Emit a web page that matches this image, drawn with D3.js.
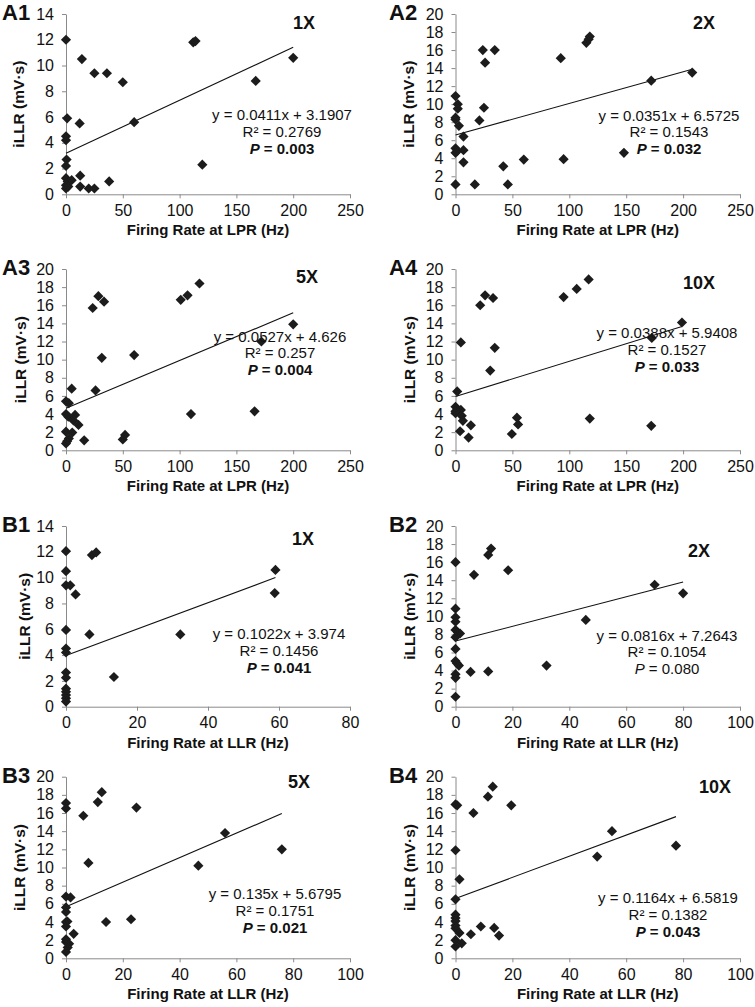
<!DOCTYPE html>
<html>
<head>
<meta charset="utf-8">
<script src="https://cdn.jsdelivr.net/npm/d3@7"></script>
<style>
  body { margin: 0; background: #fff; }
  svg { display: block; font-family: "Liberation Sans", Arial, sans-serif; }
</style>
</head>
<body>
<div id="fig"></div>
<script>
// panel names and labels
const panelIds = ["A1", "A2", "A3", "A4", "B1", "B2", "B3", "B4"];
const doseLabels = ["1X", "2X", "5X", "10X", "1X", "2X", "5X", "10X"];
const xTitles = ["Firing Rate at LPR (Hz)", "Firing Rate at LPR (Hz)", "Firing Rate at LPR (Hz)", "Firing Rate at LPR (Hz)",
  "Firing Rate at LLR (Hz)", "Firing Rate at LLR (Hz)", "Firing Rate at LLR (Hz)", "Firing Rate at LLR (Hz)"];
const yTitle = "iLLR (mV·s)";
const xMaxes = [250, 250, 250, 250, 80, 100, 100, 100];
const xSteps = [50, 50, 50, 50, 20, 20, 20, 20];
const yMaxes = [14, 20, 20, 20, 14, 20, 20, 20];

// firing rate (x) and iLLR (y)
const a1Rate = [0, 14, 25, 36, 50, 112, 114, 200, 167, 60, 12, 1, 0, 0, 0.5, 0, 120, 0, 1.5, 0, 0, 5, 12.5, 12.5, 20, 25, 38, 2];
const a1LLR = [12.0, 10.5, 9.4, 9.4, 8.7, 11.8, 11.9, 10.6, 8.8, 5.6, 5.5, 5.9, 4.5, 4.2, 2.7, 2.2, 2.3, 1.25, 1.0, 0.7, 0.45, 1.1, 1.45, 0.6, 0.45, 0.45, 1.0, 0.6];

const a2Rate = [24, 34.5, 26, 92.5, 115, 117, 118, 208, 172, 0, 2, 2, 25, 0, 0, 21, 3, 7, 0, 0, 1.5, 7, 7, 42, 60, 95, 148, 0, 17, 46];
const a2LLR = [16.0, 16.0, 14.6, 15.1, 16.8, 17.2, 17.5, 13.5, 12.6, 10.9, 10.0, 9.5, 9.6, 8.5, 8.3, 8.2, 7.6, 6.4, 5.1, 4.6, 4.8, 4.9, 3.55, 3.1, 3.85, 3.9, 4.6, 1.1, 1.1, 1.1];

const a3Rate = [23.5, 28.5, 33.5, 31.5, 60, 101, 107, 117.5, 172, 200, 26, 5, 110, 166, 50, 52, 16, 0, 2.5, 0, 2, 8, 6.5, 11, 0, 5.5, 2.5, 0, 1];
const a3LLR = [15.7, 17.0, 16.4, 10.2, 10.5, 16.6, 17.1, 18.4, 12.0, 13.9, 6.6, 6.8, 4.0, 4.3, 1.2, 1.7, 1.1, 5.4, 5.2, 4.0, 3.7, 3.9, 3.3, 2.8, 2.05, 1.95, 1.3, 0.75, 1.0];

const a4Rate = [4.7, 21.7, 26, 33, 30.5, 34.5, 95, 106.5, 117, 199, 172.5, 1.5, 0, 0, 2, 4.7, 5.5, 6.5, 4, 13.5, 11.5, 49.5, 54, 55, 118, 172, 0];
const a4LLR = [11.9, 16.0, 17.1, 16.8, 8.8, 11.3, 16.9, 17.8, 18.85, 14.1, 12.4, 6.5, 4.8, 4.1, 4.45, 4.45, 3.8, 3.25, 2.1, 2.75, 1.4, 1.8, 3.6, 2.85, 3.5, 2.7, 4.3];

const b1Rate = [0, 0, 0, 1.2, 2.7, 7.3, 8.5, 59, 58.8, 0, 6.6, 32.2, 0, 0, 0, 0, 13.5, 0, 0, 0, 0, 0];
const b1LLR = [12.05, 10.5, 9.4, 9.4, 8.7, 11.75, 11.95, 10.6, 8.8, 5.95, 5.6, 5.6, 4.5, 4.2, 2.65, 2.25, 2.3, 1.4, 1.15, 0.9, 0.65, 0.4];

const b2Rate = [0, 6.5, 11.5, 12.5, 18.5, 70, 80, 45.8, 32, 5.3, 11.5, 0, 0, 0, 0, 0.9, 1.6, 0, 0, 0, 0.5, 1.2, 0, 0, 0];
const b2LLR = [16.0, 14.6, 16.8, 17.5, 15.1, 13.5, 12.55, 9.6, 4.55, 3.85, 3.9, 10.85, 9.9, 9.4, 8.5, 8.2, 8.1, 7.7, 6.4, 5.05, 4.8, 4.55, 3.6, 3.2, 1.1];

const b3Rate = [0, 0, 6.1, 11.2, 12.6, 24.8, 7.9, 46.6, 56, 76, 0, 1.6, 14.1, 22.9, 0, 0, 0, 0.5, 0, 2.7, 0, 1.1, 0.6, 0, 0];
const b3LLR = [17.1, 16.5, 15.7, 17.2, 18.3, 16.6, 10.5, 10.2, 13.8, 12.0, 6.8, 6.7, 4.0, 4.3, 5.6, 5.1, 4.0, 4.05, 3.5, 2.7, 2.1, 1.6, 1.2, 1.8, 0.7];

const b4Rate = [0, 0.6, 6.3, 11.4, 13.1, 19.6, 0, 1.4, 0, 49.8, 55, 77.5, 0, 0, 0, 0, 0, 0, 0, 1.4, 2.2, 5.4, 8.9, 13.6, 15.3];
const b4LLR = [16.95, 16.85, 16.0, 17.8, 18.9, 16.85, 11.9, 8.7, 6.5, 11.2, 14.0, 12.4, 4.8, 4.45, 4.1, 3.6, 3.3, 2.0, 1.3, 2.8, 1.65, 2.65, 3.5, 3.35, 2.5];

const rateSeries = [a1Rate, a2Rate, a3Rate, a4Rate, b1Rate, b2Rate, b3Rate, b4Rate];
const llrSeries = [a1LLR, a2LLR, a3LLR, a4LLR, b1LLR, b2LLR, b3LLR, b4LLR];

// linear fits as printed on the figure
const slopes = [0.0411, 0.0351, 0.0527, 0.0388, 0.1022, 0.0816, 0.135, 0.1164];
const intercepts = [3.1907, 6.5725, 4.626, 5.9408, 3.974, 7.2643, 5.6795, 6.5819];
const eqTexts = ["y = 0.0411x + 3.1907", "y = 0.0351x + 6.5725", "y = 0.0527x + 4.626", "y = 0.0388x + 5.9408",
  "y = 0.1022x + 3.974", "y = 0.0816x + 7.2643", "y = 0.135x + 5.6795", "y = 0.1164x + 6.5819"];
const r2Texts = ["0.2769", "0.1543", "0.257", "0.1527", "0.1456", "0.1054", "0.1751", "0.1382"];
const pTexts = ["0.003", "0.032", "0.004", "0.033", "0.041", "0.080", "0.021", "0.043"];
const pSignificant = [true, true, true, true, true, false, true, true];

// layout (pixels)
const svgWidth = 755;
const svgHeight = 1007;
const colX = [[66, 350], [455.5, 740]];
const rowY = [[14, 194.3], [269, 450.3], [526, 706.7], [776.7, 958.3]];
const idX = [2, 389];
const yTitleX = [19, 409, 21, 410, 25, 410, 20, 410];
const doseX = [304, 704, 307, 699, 303, 699, 299, 715];
const doseY = [29, 29, 283, 289, 545, 557, 788, 793];
const eqX = [282, 669, 280, 667, 279, 667, 275, 668];
const eqY = [120, 120.5, 341.5, 338, 639, 640.5, 899, 903];
const eqGap = 16.8;

const svg = d3.select("#fig")
  .append("svg")
  .attr("width", svgWidth)
  .attr("height", svgHeight);

const diamond = d3.symbol().type(d3.symbolSquare).size(52);

panelIds.forEach(function(id, i) {
  let col = i % 2;
  let row = Math.floor(i / 2);
  let [x0, x1] = colX[col];
  let [top, bottom] = rowY[row];

  let xScale = d3.scaleLinear().domain([0, xMaxes[i]]).range([x0, x1]);
  let yScale = d3.scaleLinear().domain([0, yMaxes[i]]).range([bottom, top]);

  let g = svg.append("g");

  // axes
  let xAxis = d3.axisBottom(xScale)
    .tickValues(d3.range(0, xMaxes[i] + 1, xSteps[i]))
    .tickSizeInner(4).tickSizeOuter(0).tickPadding(6)
    .tickFormat(d3.format("d"));
  let yAxis = d3.axisLeft(yScale)
    .tickValues(d3.range(0, yMaxes[i] + 1, 2))
    .tickSizeInner(4).tickSizeOuter(0).tickPadding(8)
    .tickFormat(d3.format("d"));

  let xg = g.append("g")
    .attr("transform", `translate(0, ${bottom})`)
    .call(xAxis);
  let yg = g.append("g")
    .attr("transform", `translate(${x0}, 0)`)
    .call(yAxis);

  [xg, yg].forEach(function(ax) {
    ax.select(".domain").attr("stroke", "#8a8a8a");
    ax.selectAll(".tick line").attr("stroke", "#8a8a8a");
    ax.selectAll(".tick text")
      .attr("fill", "#111")
      .style("font-size", "16px")
      .style("font-family", "'Liberation Sans', Arial, sans-serif");
  });

  // trendline over the range of the data
  let ext = d3.extent(rateSeries[i]);
  g.append("line")
    .attr("x1", xScale(ext[0]))
    .attr("y1", yScale(slopes[i] * ext[0] + intercepts[i]))
    .attr("x2", xScale(ext[1]))
    .attr("y2", yScale(slopes[i] * ext[1] + intercepts[i]))
    .attr("stroke", "#111")
    .attr("stroke-width", 1.1);

  // points
  let pts = rateSeries[i].map((x, k) => [x, llrSeries[i][k]]);
  g.selectAll("path.pt")
    .data(pts)
    .enter()
    .append("path")
    .attr("class", "pt")
    .attr("d", diamond)
    .attr("transform", d => `translate(${xScale(d[0])}, ${yScale(d[1])}) rotate(45)`)
    .attr("fill", "#1c1c1c");

  // panel id
  g.append("text")
    .attr("x", idX[col])
    .attr("y", top + 6)
    .attr("font-size", "22px")
    .attr("font-weight", "bold")
    .attr("fill", "#111")
    .text(id);

  // dose label
  g.append("text")
    .attr("x", doseX[i])
    .attr("y", doseY[i])
    .attr("text-anchor", "middle")
    .attr("font-size", "18px")
    .attr("font-weight", "bold")
    .attr("fill", "#111")
    .text(doseLabels[i]);

  // x title
  g.append("text")
    .attr("x", (x0 + x1) / 2)
    .attr("y", bottom + 41)
    .attr("text-anchor", "middle")
    .attr("font-size", "15px")
    .attr("font-weight", "bold")
    .attr("fill", "#111")
    .text(xTitles[i]);

  // y title
  g.append("text")
    .attr("transform", `translate(${yTitleX[i] + 5}, ${(top + bottom) / 2}) rotate(-90)`)
    .attr("text-anchor", "middle")
    .attr("font-size", "15.5px")
    .attr("font-weight", "bold")
    .attr("fill", "#111")
    .text(yTitle);

  // fit statistics
  let eq = g.append("g")
    .attr("font-size", "15px")
    .attr("fill", "#111")
    .attr("text-anchor", "middle");
  eq.append("text").attr("x", eqX[i]).attr("y", eqY[i]).text(eqTexts[i]);
  eq.append("text").attr("x", eqX[i]).attr("y", eqY[i] + eqGap).text("R² = " + r2Texts[i]);
  let pLine = eq.append("text")
    .attr("x", eqX[i])
    .attr("y", eqY[i] + 2 * eqGap)
    .attr("font-weight", pSignificant[i] ? "bold" : "normal");
  pLine.append("tspan").attr("font-style", "italic").text("P");
  pLine.append("tspan").text(" = " + pTexts[i]);
});
</script>
</body>
</html>
